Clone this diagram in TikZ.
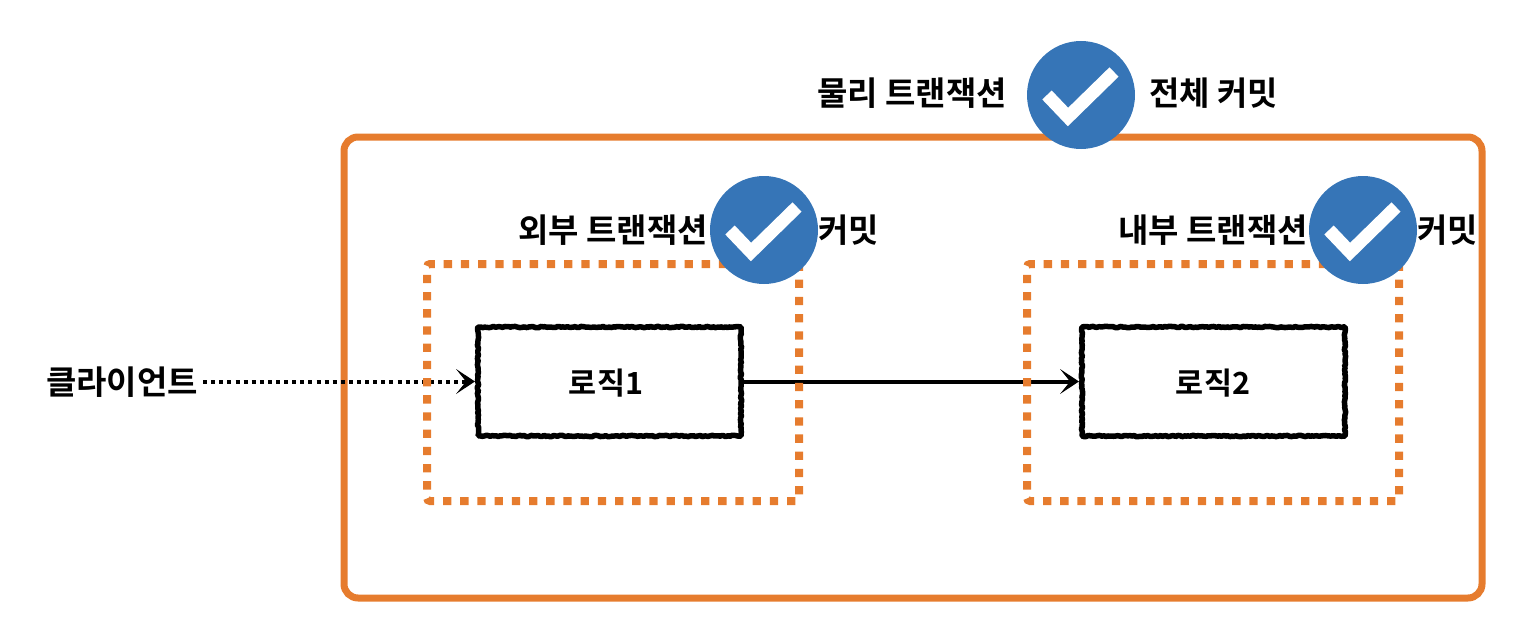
\documentclass[tikz,border=0pt]{standalone}
\usepackage{fontspec}
\setmainfont{Noto Sans CJK KR}[BoldFont={* Bold}]
\usetikzlibrary{arrows.meta,decorations.pathmorphing}
\definecolor{txorange}{HTML}{E67C2E}
\definecolor{okblue}{HTML}{3675B7}
\pgfmathsetseed{7}
\tikzset{
  x=1pt,y=-1pt,
  txtlabel/.style={inner sep=0pt,font=\fontsize{33}{33}\selectfont\bfseries,text=black},
  logictext/.style={inner sep=0pt,font=\fontsize{30.5}{30}\selectfont\bfseries,text=black,anchor=base},
  outerbox/.style={draw=txorange,line width=7pt,rounded corners=14pt,inner sep=0pt,outer sep=0pt},
  innerbox/.style={draw=txorange,line width=8pt,dash pattern=on 8.3pt off 8.9pt,rounded corners=3pt,inner sep=0pt,outer sep=0pt},
  logicbox/.style={draw=black,line width=5.5pt,line join=bevel,inner sep=0pt,outer sep=0pt,
    decorate,decoration={random steps,segment length=2pt,amplitude=.7pt}},
  okdisc/.style={circle,fill=okblue,inner sep=0pt,outer sep=0pt,minimum size=108pt},
  okmark/.style={draw=white,line width=13pt,miter limit=10,line join=miter},
  link/.style={draw=black,line width=4pt,shorten >=3pt,-{Stealth[length=19pt,width=25pt,inset=10pt,line width=0pt]}},
  dottedlink/.style={link,dash pattern=on 4pt off 4.1pt},
}
\newcommand{\okmarkat}[1]{\begin{scope}[shift={(#1.center)}]\draw[okmark] (-34,0) -- (-13,22) -- (33,-23);\end{scope}}
\begin{document}
\begin{tikzpicture}
\useasboundingbox (0,0) rectangle (1516,618);
\node[outerbox,minimum width=1138pt,minimum height=461pt,anchor=north west] (physical) at (344,137) {};
\node[txtlabel,anchor=base] (client) at (122,394) {클라이언트};
\node[logicbox,minimum width=263pt,minimum height=109pt,anchor=north west] (logicA) at (478,327) {};
\node[logicbox,minimum width=263pt,minimum height=109pt,anchor=north west] (logicB) at (1082,327) {};
\node[logictext] (logicAtext) at (606,394) {로직1};
\node[logictext] (logicBtext) at (1213,394) {로직2};
\draw[dottedlink] (client.east |- logicA.west) ++(5pt,0) coordinate (clientout) -- (logicA.west);
\draw[link] (logicA.east) -- (logicB.west);
\node[innerbox,minimum width=372pt,minimum height=237pt,anchor=north west] (outerTx) at (427,264) {};
\node[innerbox,minimum width=372pt,minimum height=237pt,anchor=north west] (innerTx) at (1027,264) {};
\node[txtlabel,anchor=base east] (physL) at (1007,106) {물리 트랜잭션};
\node[txtlabel,anchor=base west] (physR) at (1149,106) {전체 커밋};
\node[txtlabel,anchor=base east] (outerL) at (708,242) {외부 트랜잭션};
\node[txtlabel,anchor=base west] (outerR) at (818,242) {커밋};
\node[txtlabel,anchor=base east] (innerL) at (1308,242) {내부 트랜잭션};
\node[txtlabel,anchor=base west] (innerR) at (1417,242) {커밋};
\node[okdisc] (okP) at (1081,95) {};
\node[okdisc] (okO) at (764,230) {};
\node[okdisc] (okI) at (1363,230) {};
\okmarkat{okP}
\okmarkat{okO}
\okmarkat{okI}
\end{tikzpicture}
\end{document}
